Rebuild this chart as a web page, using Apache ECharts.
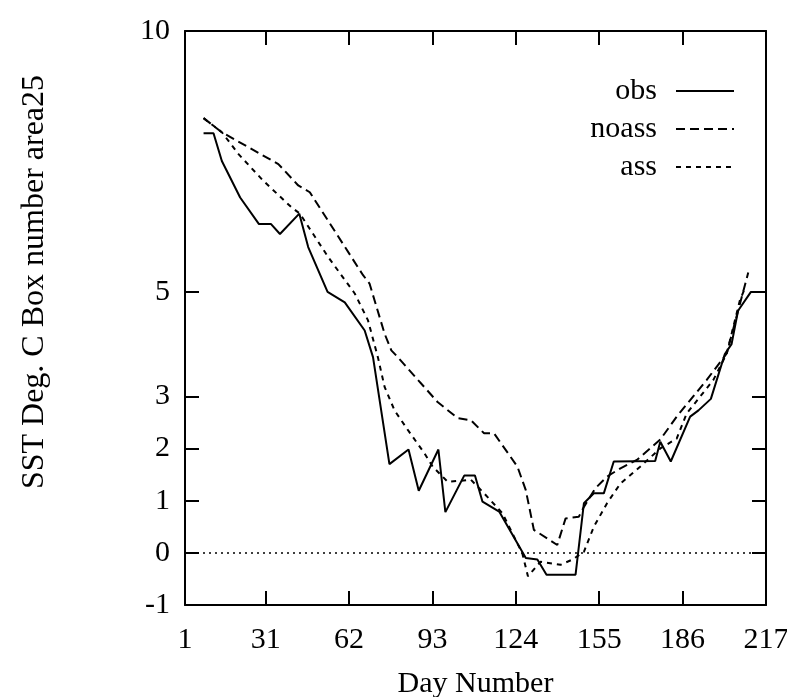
<!DOCTYPE html>
<html>
<head>
<meta charset="utf-8">
<script src="https://cdn.jsdelivr.net/npm/echarts@6/dist/echarts.min.js"></script>
<style>
  html, body { margin: 0; padding: 0; background: #fff; }
  #chart { width: 787px; height: 697px; }
</style>
</head>
<body>
<div id="chart"></div>
<script>
// observed SST (solid)
const obsDays = [7.9, 11.6, 14.7, 21.5, 28.5, 33, 36.3, 43.5, 46.8, 54, 60.4, 67.8, 70.9, 77, 84.1, 87.9, 95.2, 97.8, 104.8, 108.8, 111.6, 117.8, 127.7, 132, 135.4, 146.2, 149.3, 153, 156.7, 160.4, 175.8, 177.7, 181.6, 188.8, 191.9, 196.5, 201.7, 204.2, 206.6, 211.4, 217]
const obsVals = [8.04, 8.04, 7.51, 6.81, 6.30, 6.30, 6.11, 6.50, 5.86, 5.0, 4.8, 4.26, 3.75, 1.70, 1.98, 1.19, 1.98, 0.78, 1.48, 1.48, 0.98, 0.79, -0.10, -0.13, -0.42, -0.42, 0.95, 1.14, 1.14, 1.75, 1.76, 2.13, 1.75, 2.61, 2.73, 2.95, 3.81, 4.0, 4.64, 5.0, 5.0]

// model without assimilation (long dash)
const noassDays = [7.9, 14.7, 35.7, 43.1, 47.4, 67.2, 69.6, 75.2, 77.7, 80.1, 94.9, 102.4, 107.3, 112.2, 115.9, 124.6, 127.7, 130.7, 139.4, 142.5, 147.4, 149.3, 153.6, 157.9, 162.9, 169, 177.7, 183.8, 194.9, 202.4, 210.4]
const noassVals = [8.33, 8.06, 7.45, 7.04, 6.91, 5.32, 5.16, 4.2, 3.88, 3.75, 2.89, 2.58, 2.54, 2.29, 2.29, 1.65, 1.2, 0.44, 0.15, 0.66, 0.69, 0.88, 1.24, 1.46, 1.62, 1.78, 2.17, 2.61, 3.31, 3.82, 5.37]

// model with assimilation (short dash)
const assDays = [7.9, 14.7, 20.9, 30.1, 40.6, 43.7, 54.2, 64.1, 69, 72.7, 75.2, 78.9, 83.9, 90, 93.1, 95.6, 98.7, 107.3, 112.2, 119, 126.4, 128.5, 133.2, 140.6, 145, 149.3, 153, 157.9, 162.9, 170.2, 177.7, 183.8, 187.5, 197.4, 202.4, 207.3, 209]
const assVals = [8.33, 8.06, 7.64, 7.13, 6.62, 6.5, 5.67, 4.97, 4.46, 3.75, 3.18, 2.73, 2.35, 1.91, 1.65, 1.52, 1.36, 1.40, 1.14, 0.76, -0.01, -0.45, -0.17, -0.23, -0.13, 0.02, 0.5, 0.95, 1.33, 1.65, 2.0, 2.19, 2.67, 3.31, 3.82, 4.84, 5.05]

const xTickLabels = [1, 31, 62, 93, 124, 155, 186, 217]
const xTicks = [31, 62, 93, 124, 155, 186]
const yTickLabels = [-1, 0, 1, 2, 3, 5, 10]
const yTicks = [0, 1, 2, 3, 5]

const FONT = 'Liberation Serif'

function pairs(xs, ys) {
  return xs.map((x, i) => [x, ys[i]])
}

const axisLine = { show: true, onZero: false, lineStyle: { color: '#000', width: 2 } }
const tick = (vals) => ({ show: true, inside: true, length: 14, customValues: vals, lineStyle: { color: '#000', width: 2 } })

const chart = echarts.init(document.getElementById('chart'), null, { renderer: 'canvas' })

const option = {
  backgroundColor: '#fff',
  animation: false,
  grid: { left: 185, right: 21, top: 31, bottom: 92, containLabel: false, outerBoundsMode: 'none' },
  legend: {
    data: ['obs', 'noass', 'ass'],
    orient: 'vertical',
    align: 'right',
    right: 47,
    top: 71,
    itemWidth: 58,
    itemHeight: 10,
    itemGap: 8,
    itemStyle: { opacity: 0, borderWidth: 0 },
    textStyle: { fontFamily: FONT, fontSize: 30, color: '#000', lineHeight: 30, padding: [0, 14, 0, 0] }
  },
  xAxis: [{
    type: 'value',
    min: 1,
    max: 217,
    position: 'bottom',
    name: 'Day Number',
    nameLocation: 'middle',
    nameGap: 64,
    nameTextStyle: { fontFamily: FONT, fontSize: 30, color: '#000' },
    axisLine: axisLine,
    axisTick: tick(xTicks),
    axisLabel: { customValues: xTickLabels, fontFamily: FONT, fontSize: 30, color: '#000', margin: 20 },
    splitLine: { show: false }
  }, {
    type: 'value',
    min: 1,
    max: 217,
    position: 'top',
    axisLine: axisLine,
    axisTick: tick(xTicks),
    axisLabel: { show: false },
    splitLine: { show: false }
  }],
  yAxis: [{
    type: 'value',
    min: -1,
    max: 10,
    interval: 1,
    position: 'left',
    axisLine: axisLine,
    axisTick: tick(yTicks),
    axisLabel: { customValues: yTickLabels, fontFamily: FONT, fontSize: 30, color: '#000', margin: 15 },
    splitLine: { show: false }
  }, {
    type: 'value',
    min: -1,
    max: 10,
    interval: 1,
    position: 'right',
    axisLine: axisLine,
    axisTick: tick(yTicks),
    axisLabel: { show: false },
    splitLine: { show: false }
  }],
  graphic: [{
    type: 'text',
    x: 35,
    y: 282,
    rotation: Math.PI / 2,
    style: {
      text: 'SST Deg. C Box number area25',
      font: '32px "Liberation Serif"',
      fill: '#000',
      align: 'center',
      verticalAlign: 'middle'
    }
  }],
  series: [{
    name: 'obs',
    type: 'line',
    data: pairs(obsDays, obsVals),
    symbol: 'none',
    color: '#000',
    lineStyle: { color: '#000', width: 2, type: 'solid' },
    markLine: {
      silent: true,
      symbol: ['none', 'none'],
      label: { show: false },
      lineStyle: { color: '#000', width: 1.5, type: [2, 4] },
      data: [{ yAxis: 0 }]
    }
  }, {
    name: 'noass',
    type: 'line',
    data: pairs(noassDays, noassVals),
    symbol: 'none',
    color: '#000',
    lineStyle: { color: '#000', width: 2, type: [9, 5] }
  }, {
    name: 'ass',
    type: 'line',
    data: pairs(assDays, assVals),
    symbol: 'none',
    color: '#000',
    lineStyle: { color: '#000', width: 2, type: [5, 5] }
  }]
}

chart.setOption(option)
</script>
</body>
</html>
